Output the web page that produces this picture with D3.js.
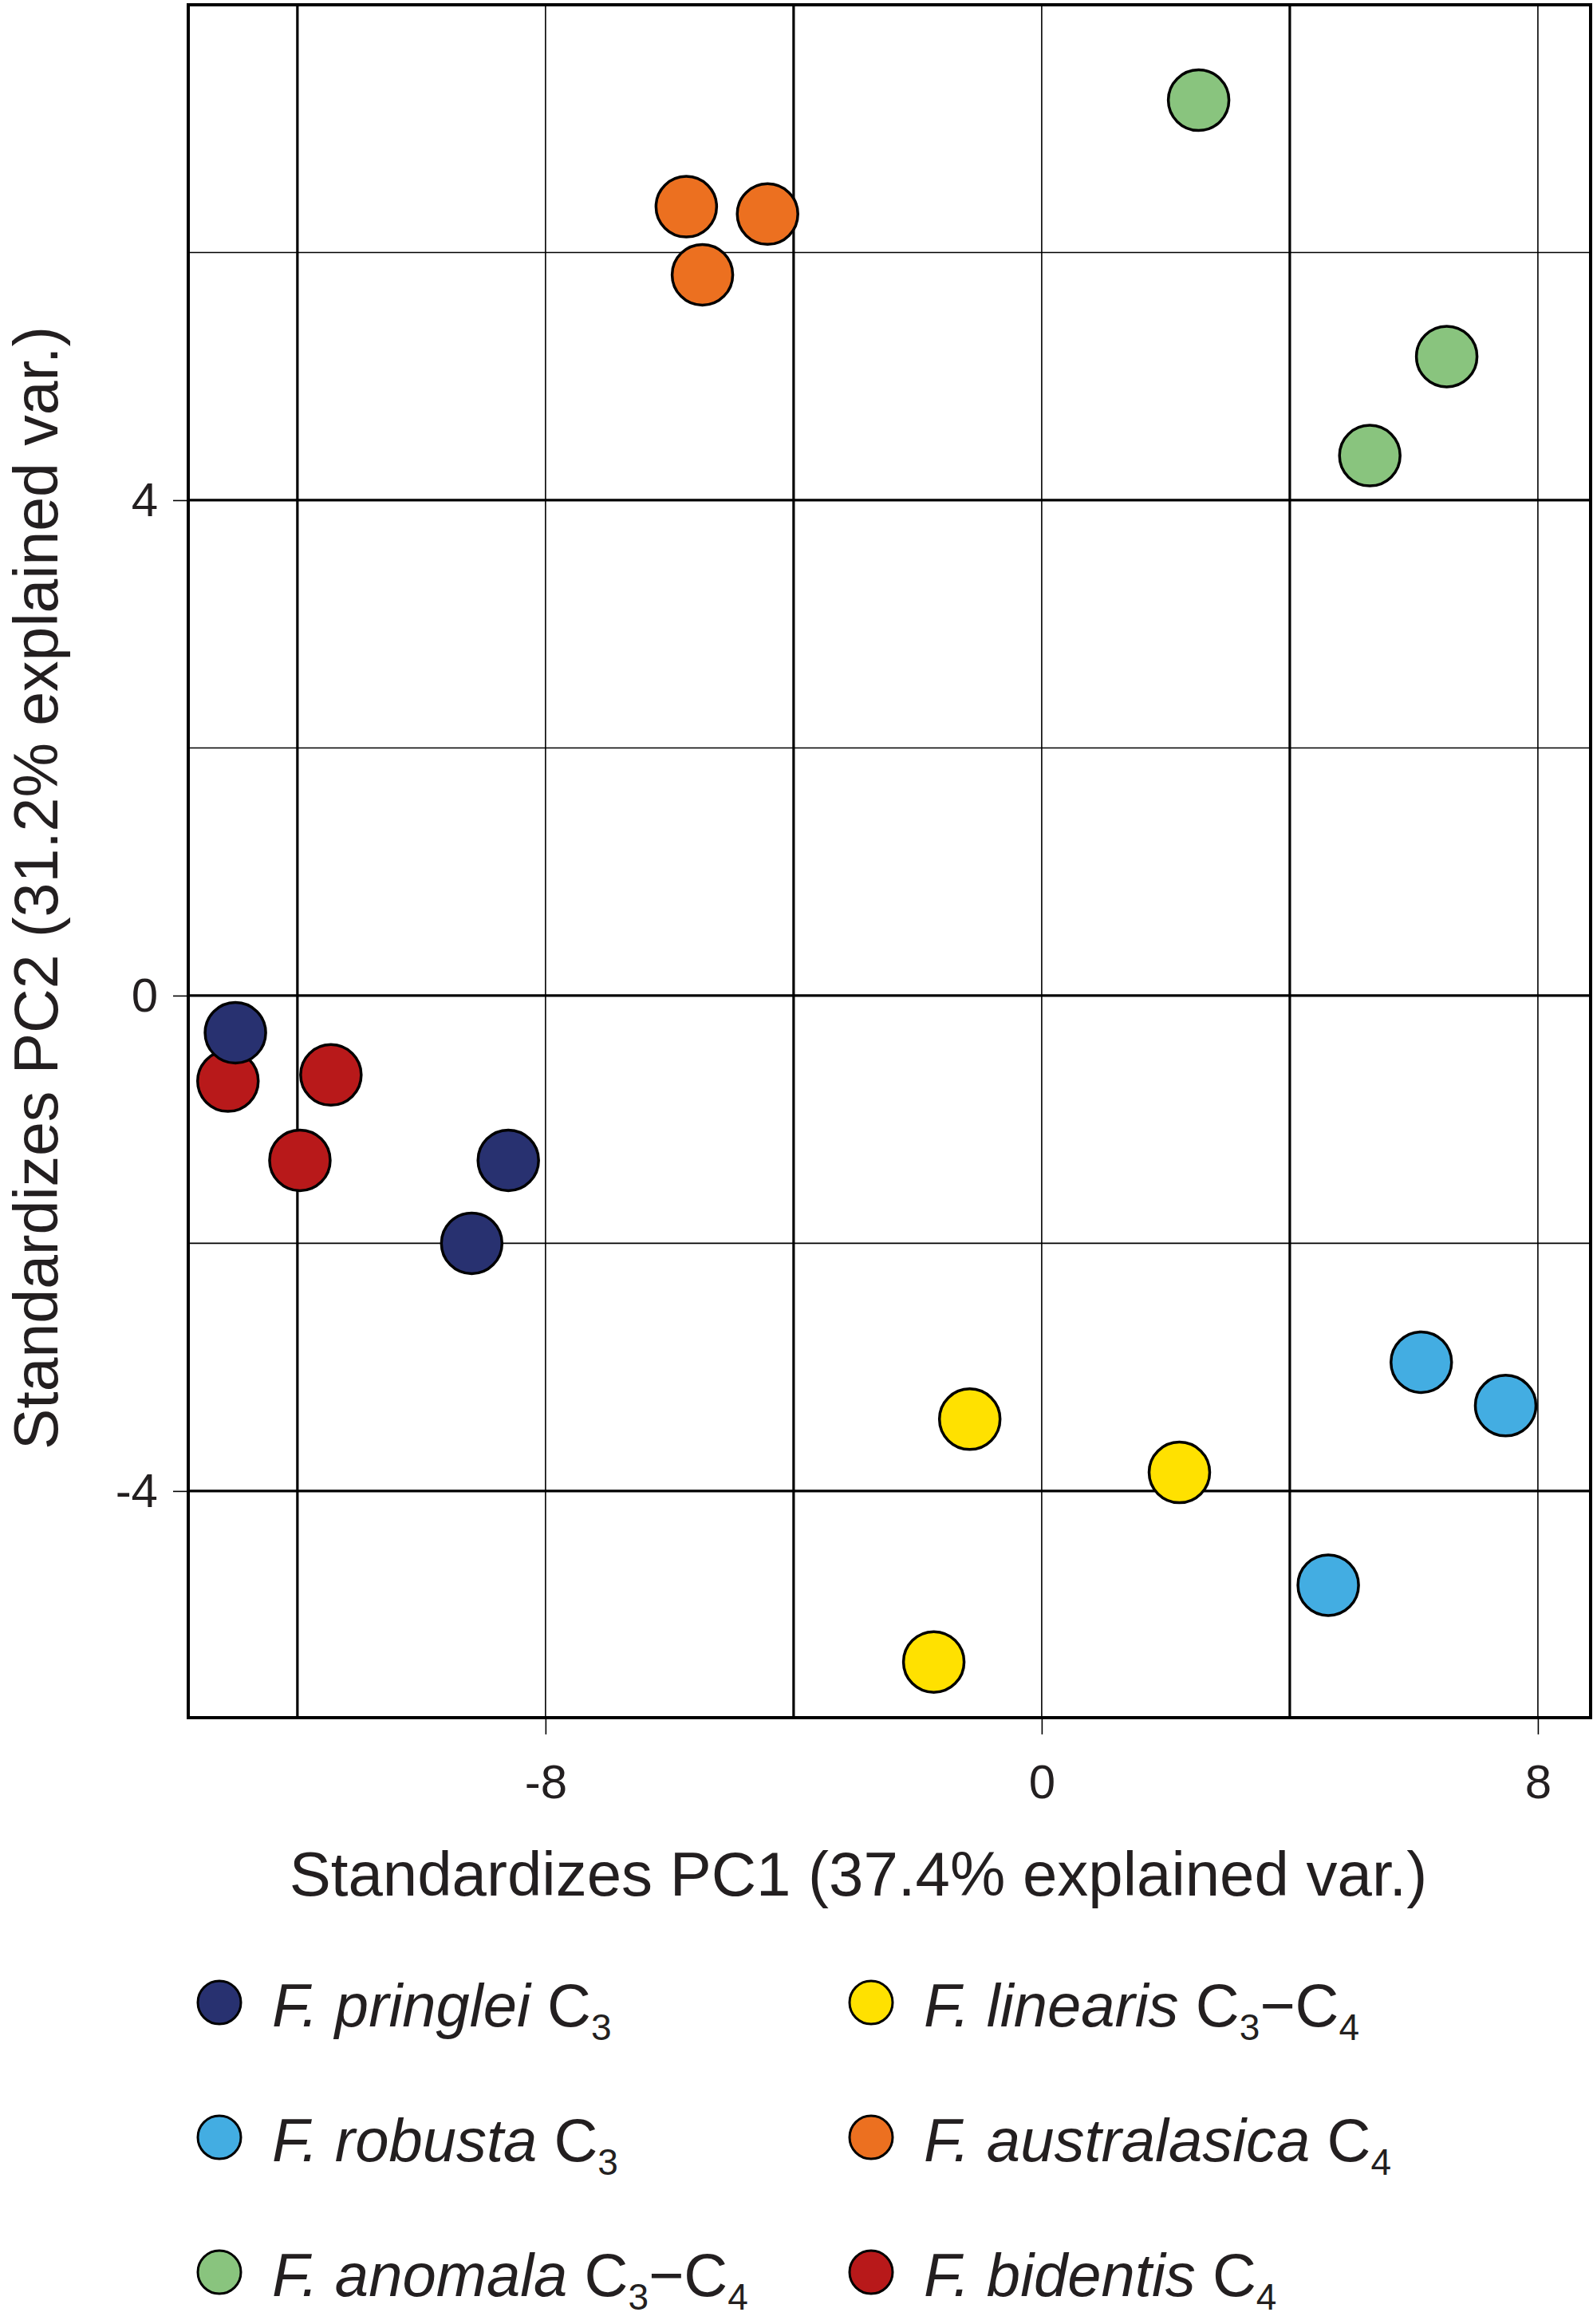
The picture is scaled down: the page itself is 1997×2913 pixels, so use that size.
<!DOCTYPE html>
<html>
<head>
<meta charset="utf-8">
<script src="https://cdn.jsdelivr.net/npm/d3@7"></script>
<style>
  body { margin: 0; background: #fff; }
  text { font-family: "Liberation Sans", Arial, sans-serif; fill: #231f20; }
</style>
</head>
<body>
<div id="chart"></div>
<script>
// species, in legend order (column by column)
const species = ["pringlei", "robusta", "anomala", "linearis", "australasica", "bidentis"];
const pathway = ["C3", "C3", "C3-C4", "C3-C4", "C4", "C4"];
const colors = ["#283170", "#43ade2", "#89c47e", "#ffe100", "#ec7020", "#b8191a"];

// PC scores, three plants per species
const pc1 = {
    pringlei: [-13.0, -8.6, -9.19],
    robusta: [6.12, 7.48, 4.62],
    anomala: [2.53, 6.53, 5.29],
    linearis: [-1.16, 2.22, -1.74],
    australasica: [-5.73, -4.42, -5.47],
    bidentis: [-13.12, -11.46, -11.96]
};
const pc2 = {
    pringlei: [-0.3, -1.33, -2.0],
    robusta: [-2.96, -3.31, -4.76],
    anomala: [7.23, 5.16, 4.36],
    linearis: [-3.42, -3.85, -5.38],
    australasica: [6.37, 6.31, 5.82],
    bidentis: [-0.69, -0.64, -1.33]
};

const xTicks = [-8, 0, 8];
const yTicks = [-4, 0, 4];
const xMajor = [-12, -4, 4];
const xMinor = [-8, 0, 8];
const yMajor = [-4, 0, 4];
const yMinor = [-2, 2, 6];

const W = 1997, H = 2913;
const plot = {left: 236, right: 1994, top: 6, bottom: 2153};

const svg = d3.select("#chart")
    .append("svg")
    .attr("width", W)
    .attr("height", H);

svg.append("rect").attr("width", W).attr("height", H).attr("fill", "#fff");

const x = d3.scaleLinear().domain([-13.76, 8.85]).range([plot.left, plot.right]);
const y = d3.scaleLinear().domain([-5.83, 8]).range([plot.bottom, plot.top]);

// grid lines
const grid = svg.append("g");
grid.selectAll(".vmin").data(xMinor).enter().append("line")
    .attr("x1", d => x(d)).attr("x2", d => x(d))
    .attr("y1", plot.top).attr("y2", plot.bottom)
    .attr("stroke", "#000").attr("stroke-width", 1.6);
grid.selectAll(".hmin").data(yMinor).enter().append("line")
    .attr("y1", d => y(d)).attr("y2", d => y(d))
    .attr("x1", plot.left).attr("x2", plot.right)
    .attr("stroke", "#000").attr("stroke-width", 1.6);
grid.selectAll(".vmaj").data(xMajor).enter().append("line")
    .attr("x1", d => x(d)).attr("x2", d => x(d))
    .attr("y1", plot.top).attr("y2", plot.bottom)
    .attr("stroke", "#000").attr("stroke-width", 3.2);
grid.selectAll(".hmaj").data(yMajor).enter().append("line")
    .attr("y1", d => y(d)).attr("y2", d => y(d))
    .attr("x1", plot.left).attr("x2", plot.right)
    .attr("stroke", "#000").attr("stroke-width", 3.2);

// axes
const xAxis = svg.append("g")
    .attr("transform", `translate(0, ${plot.bottom})`)
    .call(d3.axisBottom(x).tickValues(xTicks).tickSize(21).tickPadding(37));
const yAxis = svg.append("g")
    .attr("transform", `translate(${plot.left}, 0)`)
    .call(d3.axisLeft(y).tickValues(yTicks).tickSize(19).tickPadding(19));
[xAxis, yAxis].forEach(a => {
    a.select(".domain").remove();
    a.selectAll("line").attr("stroke", "#000").attr("stroke-width", 1.6);
    a.selectAll("text")
        .attr("font-size", 60)
        .attr("font-family", "Liberation Sans, Arial, sans-serif")
        .attr("fill", "#231f20")
        .text(d => d < 0 ? "-" + Math.abs(d) : d);
});

// border
svg.append("rect")
    .attr("x", plot.left).attr("y", plot.top)
    .attr("width", plot.right - plot.left).attr("height", plot.bottom - plot.top)
    .attr("fill", "none").attr("stroke", "#000").attr("stroke-width", 4);

// points (bidentis first so pringlei sits on top)
const drawOrder = ["bidentis", "australasica", "anomala", "linearis", "robusta", "pringlei"];
const points = [];
drawOrder.forEach(s => {
    const col = colors[species.indexOf(s)];
    pc1[s].forEach((v, i) => points.push({x: v, y: pc2[s][i], color: col}));
});
svg.append("g").selectAll("circle").data(points).enter().append("circle")
    .attr("cx", d => x(d.x))
    .attr("cy", d => y(d.y))
    .attr("r", 38)
    .attr("fill", d => d.color)
    .attr("stroke", "#000")
    .attr("stroke-width", 3.5);

// axis titles
svg.append("text")
    .attr("x", 1076).attr("y", 2376)
    .attr("text-anchor", "middle")
    .attr("font-size", 78)
    .text("Standardizes PC1 (37.4% explained var.)");
svg.append("text")
    .attr("transform", "translate(72, 1113) rotate(-90)")
    .attr("text-anchor", "middle")
    .attr("font-size", 77)
    .text("Standardizes PC2 (31.2% explained var.)");

// legend
const legCol = d3.scalePoint().domain([0, 1]).range([275, 1092]);
const legRow = d3.scalePoint().domain([0, 1, 2]).range([2510, 2848]);
const legend = svg.append("g");
const subShift = 17;
species.forEach((s, i) => {
    const cx = legCol(Math.floor(i / 3));
    const cy = legRow(i % 3);
    const g = legend.append("g");
    g.append("circle")
        .attr("cx", cx).attr("cy", cy).attr("r", 27)
        .attr("fill", colors[i]).attr("stroke", "#000").attr("stroke-width", 3);
    const t = g.append("text")
        .attr("x", cx + 66).attr("y", cy + 30)
        .attr("font-size", 76);
    t.append("tspan").attr("font-style", "italic").text("F. " + s);
    const parts = pathway[i].split("-");
    parts.forEach((p, k) => {
        const c = t.append("tspan").text((k === 0 ? " " : "\u2212") + "C");
        if (k > 0) c.attr("dy", -subShift);
        t.append("tspan").attr("font-size", 46).attr("dy", subShift).text(p.slice(1));
    });
});
</script>
</body>
</html>
